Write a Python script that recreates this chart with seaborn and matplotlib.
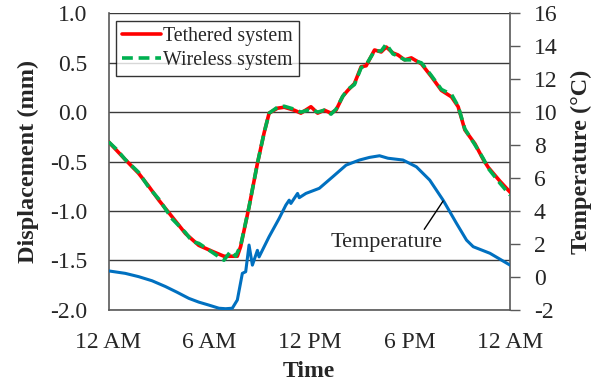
import matplotlib
matplotlib.use("Agg")
import matplotlib.pyplot as plt
import seaborn as sns
import pandas as pd

# ---- data ----
teth_hours = [0.0, 0.5, 1.0, 1.8, 2.4, 3.0, 3.8, 4.6, 5.4, 6.2, 6.9, 7.7, 7.9, 8.4, 8.9, 9.3,
              9.6, 10.1, 10.5, 11.1, 11.5, 12.1, 12.5, 12.9, 13.3, 13.6, 14.0, 14.3, 14.7,
              15.1, 15.4, 15.9, 16.3, 16.6, 17.0, 17.3, 17.7, 18.1, 18.7, 19.3, 19.9, 20.5,
              20.9, 21.3, 21.9, 22.4, 22.7, 23.4, 24.0]
teth_disp = [-0.30, -0.39, -0.48, -0.62, -0.75, -0.89, -1.06, -1.23, -1.35, -1.41, -1.46, -1.46,
             -1.36, -0.96, -0.52, -0.21, -0.01, 0.04, 0.05, 0.02, -0.01, 0.055, -0.01, 0.02,
             -0.01, 0.02, 0.16, 0.22, 0.29, 0.46, 0.47, 0.63, 0.61, 0.66, 0.60, 0.58, 0.53,
             0.55, 0.49, 0.36, 0.22, 0.155, 0.055, -0.18, -0.32, -0.48, -0.56, -0.70, -0.81]

wire_hours = [0.0, 0.5, 1.0, 1.8, 2.4, 3.0, 3.8, 4.6, 5.0, 5.4, 6.2, 6.9, 7.3, 7.6, 7.9, 8.4, 8.9,
              9.3, 9.6, 10.1, 10.5, 11.1, 11.5, 12.1, 12.5, 12.9, 13.3, 13.6, 14.0, 14.3, 14.7,
              15.1, 15.4, 15.9, 16.3, 16.6, 17.0, 17.3, 17.7, 18.1, 18.7, 19.3, 19.9, 20.5,
              20.9, 21.3, 21.9, 22.4, 22.7, 23.4, 24.0]
wire_disp = [-0.30, -0.38, -0.48, -0.61, -0.76, -0.88, -1.08, -1.22, -1.31, -1.33, -1.42, -1.50,
             -1.41, -1.46, -1.35, -0.96, -0.52, -0.21, -0.01, 0.05, 0.06, 0.03, 0.00, 0.03,
             0.00, 0.02, -0.02, 0.03, 0.16, 0.23, 0.28, 0.45, 0.48, 0.62, 0.62, 0.69, 0.59,
             0.57, 0.53, 0.53, 0.50, 0.37, 0.23, 0.18, 0.06, -0.17, -0.33, -0.47, -0.57,
             -0.72, -0.84]

temp_hours = [0.0, 1.0, 1.8, 2.6, 3.4, 4.1, 4.8, 5.4, 6.0, 6.6, 7.0, 7.4, 7.7, 8.0, 8.2, 8.4,
              8.6, 8.9, 9.0, 9.6, 10.2, 10.6, 10.8, 10.9, 11.3, 11.4, 11.8, 12.6, 13.4, 14.2,
              15.0, 15.6, 16.2, 16.7, 17.6, 18.4, 19.2, 20.0, 20.8, 21.4, 21.8, 22.8, 24.0]
temp_vals = [0.35, 0.20, 0.00, -0.25, -0.60, -0.95, -1.32, -1.55, -1.73, -1.92, -1.95, -1.92,
             -1.42, 0.20, 0.30, 1.92, 0.70, 1.60, 1.20, 2.43, 3.54, 4.35, 4.65, 4.45, 5.06, 4.80,
             5.06, 5.37, 6.07, 6.78, 7.09, 7.25, 7.35, 7.20, 7.09, 6.68, 5.87, 4.65, 3.24, 2.22,
             1.82, 1.42, 0.70]

x_ticks = [0, 6, 12, 18, 24]
x_ticklabels = ["12 AM", "6 AM", "12 PM", "6 PM", "12 AM"]
disp_ticks = [-2.0, -1.5, -1.0, -0.5, 0.0, 0.5, 1.0]
temp_ticks = [-2, 0, 2, 4, 6, 8, 10, 12, 14, 16]

# ---- plotting ----
sns.set_theme(style="white")
plt.rcParams["font.family"] = ["Liberation Serif", "DejaVu Serif"]

fig = plt.figure(figsize=(5.91, 3.85), dpi=100)
ax = fig.add_axes([0.1836, 0.196, 0.6794, 0.769])

df_t = pd.DataFrame({"h": teth_hours, "d": teth_disp})
df_w = pd.DataFrame({"h": wire_hours, "d": wire_disp})
df_temp = pd.DataFrame({"h": temp_hours, "t": temp_vals})

for y in disp_ticks:
    ax.axhline(y, color="#3a3a3a", lw=1.0, zorder=0)

sns.lineplot(data=df_t, x="h", y="d", ax=ax, color="#ff0000", lw=2.6,
             label="Tethered system", zorder=3)
sns.lineplot(data=df_w, x="h", y="d", ax=ax, color="#00b050", lw=2.6,
             linestyle=(0, (3, 1.6)), label="Wireless system", zorder=4)

ax.set_xlim(0, 24)
ax.set_ylim(-2.0, 1.0)
ax.set_xticks(x_ticks)
ax.set_xticklabels(x_ticklabels)
ax.set_yticks(disp_ticks)
ax.set_yticklabels([f"{v:.1f}" for v in disp_ticks])
ax.tick_params(axis="x", direction="in", length=5, width=1, color="#595959",
               labelsize=17, pad=16)
ax.tick_params(axis="y", length=0, labelsize=17, pad=15)
ax.set_xlabel("Time", fontsize=17, fontweight="bold", labelpad=6)
ax.set_ylabel("Displacement (mm)", fontsize=17.5, fontweight="bold", labelpad=8)
for s in ["left", "bottom", "right"]:
    ax.spines[s].set_color("#595959")
    ax.spines[s].set_linewidth(1.2)
ax.spines["top"].set_visible(False)

leg = ax.legend(loc="upper left", bbox_to_anchor=(0.018, 0.975), fontsize=14.3,
                frameon=True, fancybox=False, handlelength=2.0, handletextpad=0.1,
                borderpad=0.3, labelspacing=0.25, borderaxespad=0.0)
leg.get_frame().set_edgecolor("black")
leg.get_frame().set_linewidth(1.0)

ax2 = ax.twinx()
sns.lineplot(data=df_temp, x="h", y="t", ax=ax2, color="#0070c0", lw=2.2, legend=False)
ax2.set_ylim(-2, 16)
ax2.set_xlim(0, 24)
ax2.set_yticks(temp_ticks)
ax2.set_yticklabels([str(v) for v in temp_ticks])
ax2.tick_params(axis="y", direction="out", length=7, width=1, color="#595959",
                labelsize=17, pad=10)
ax2.set_ylabel("Temperature (\u00b0C)", fontsize=17.5, fontweight="bold", labelpad=10)
for s in ["left", "bottom", "right", "top"]:
    ax2.spines[s].set_visible(False)
ax2.grid(False)

ax2.annotate("Temperature", xy=(20.0, 4.6), xytext=(16.6, 2.1),
             fontsize=16, ha="center", va="center",
             arrowprops=dict(arrowstyle="-", color="black", lw=1.0,
                             shrinkA=0, shrinkB=0, relpos=(0.82, 1.0)))

fig.savefig("out.png", dpi=100)
